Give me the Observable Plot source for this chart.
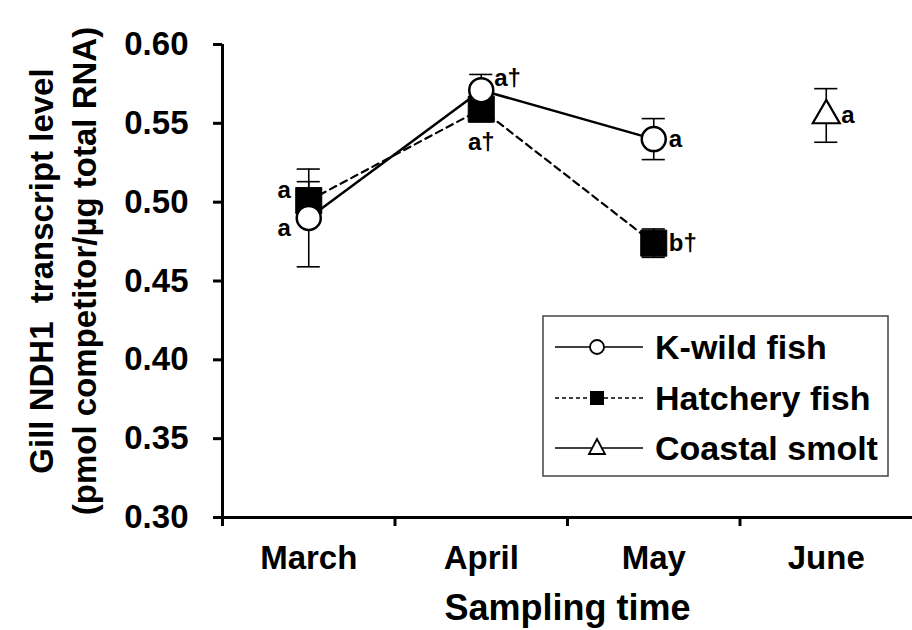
<!DOCTYPE html>
<html><head><meta charset="utf-8">
<script src="https://cdn.jsdelivr.net/npm/d3@7"></script>
<script src="https://cdn.jsdelivr.net/npm/@observablehq/plot@0.6"></script>
<style>
html,body{margin:0;padding:0;background:#fff;}
#chart{width:912px;height:630px;}
</style></head><body><div id="chart"></div>
<script>
// ---- data ----
const months = ["March", "April", "May", "June"];
const yTicks = [0.30, 0.35, 0.40, 0.45, 0.50, 0.55, 0.60];

const kwildMonths = ["March", "April", "May"];
const kwildMean = [0.490, 0.571, 0.540];
const kwildErr = [0.031, 0.010, 0.013];

const hatchMonths = ["March", "April", "May"];
const hatchMean = [0.501, 0.559, 0.474];
const hatchErr = [0.012, 0.008, 0.009];

const coastalMonths = ["June"];
const coastalMean = [0.555];
const coastalErr = [0.017];

const letterSeries = ["Hatchery", "K-wild", "K-wild", "Hatchery", "K-wild", "Hatchery", "Coastal"];
const letterMonths = ["March", "March", "April", "April", "May", "May", "June"];
const letterText = ["a", "a", "a\u2020", "a\u2020", "a", "b\u2020", "a"];
const letterSide = ["upperLeft", "lowerLeft", "upperRight", "below", "right", "right", "right"];

const legendNames = ["K-wild fish", "Hatchery fish", "Coastal smolt"];

const yTitle = "Gill NDH1  transcript level\n(pmol competitor/\u00b5g total RNA)";
const xTitle = "Sampling time";

// ---- build tables ----
const FONT = "'Liberation Sans', Arial, Helvetica, sans-serif";
const mk = (series, ms, mean, err) => ms.map((m, i) => ({
  series, month: m, x: months.indexOf(m) + 0.5, y: mean[i], lo: mean[i] - err[i], hi: mean[i] + err[i]
}));
const kwild = mk("K-wild", kwildMonths, kwildMean, kwildErr);
const hatch = mk("Hatchery", hatchMonths, hatchMean, hatchErr);
const coastal = mk("Coastal", coastalMonths, coastalMean, coastalErr);
const all = [...kwild, ...hatch, ...coastal];
const letters = letterText.map((t, i) => {
  const row = all.find(d => d.series === letterSeries[i] && d.month === letterMonths[i]);
  return {text: t, side: letterSide[i], x: row.x, y: row.y};
});
const capHalf = 0.067;

const sideOpts = {
  upperLeft: {textAnchor: "end", dx: -18, dy: -10},
  lowerLeft: {textAnchor: "end", dx: -18, dy: 10},
  upperRight: {textAnchor: "start", dx: 13, dy: -12},
  below: {textAnchor: "middle", dx: 0, dy: 33},
  right: {textAnchor: "start", dx: 15, dy: 0}
};
const letterMarks = Object.entries(sideOpts).map(([side, o]) =>
  Plot.text(letters.filter(d => d.side === side), {
    x: "x", y: "y", text: "text", fontSize: 24, fontWeight: "bold", ...o
  }));

// legend drawn as a custom render mark
function legendMark() {
  return (index, scales, values, dims) => {
    const g = d3.create("svg:g");
    const bx = 543, by = 316, bw = 345, bh = 160;
    g.append("rect").attr("x", bx).attr("y", by).attr("width", bw).attr("height", bh)
      .attr("fill", "white").attr("stroke", "#444").attr("stroke-width", 1.5);
    const rows = [347, 398, 448];
    const lx1 = 555, lx2 = 643, mx = 597, tx = 655;
    legendNames.forEach((name, i) => {
      const y = rows[i];
      const line = g.append("line").attr("x1", lx1).attr("x2", lx2).attr("y1", y).attr("y2", y)
        .attr("stroke", "black").attr("stroke-width", 1.5);
      if (i === 1) line.attr("stroke-dasharray", "4,3");
      if (i === 0) g.append("circle").attr("cx", mx).attr("cy", y).attr("r", 7)
        .attr("fill", "white").attr("stroke", "black").attr("stroke-width", 1.8);
      if (i === 1) g.append("rect").attr("x", mx - 7).attr("y", y - 7).attr("width", 14).attr("height", 14)
        .attr("fill", "black");
      if (i === 2) g.append("path").attr("d", `M${mx},${y - 9}L${mx + 8},${y + 6}L${mx - 8},${y + 6}Z`)
        .attr("fill", "white").attr("stroke", "black").attr("stroke-width", 1.8);
      g.append("text").attr("x", tx).attr("y", y).attr("dy", "0.36em")
        .attr("text-anchor", "start")
        .attr("font-size", 34).attr("font-weight", "bold").attr("font-family", FONT)
        .attr("fill", "black").text(name);
    });
    return g.node();
  };
}

const chart = Plot.plot({
  width: 912,
  height: 630,
  marginTop: 44,
  marginBottom: 113,
  marginLeft: 222,
  marginRight: 0,
  style: {fontFamily: FONT, fontSize: "32px", fontWeight: "bold", color: "black", background: "white", overflow: "visible"},
  x: {domain: [0, 4]},
  y: {domain: [0.30, 0.60]},
  marks: [
    // axes
    Plot.axisY({ticks: yTicks, tickSize: 9, tickPadding: 25, strokeWidth: 3, tickFormat: d => d.toFixed(2),
      fontSize: 33, fontWeight: "bold", label: null}),
    Plot.axisX({ticks: [0, 1, 2, 3], tickSize: 9, strokeWidth: 3, tickFormat: () => "", label: null}),
    Plot.axisX({ticks: months.map((m, i) => i + 0.5), tickSize: 0, tickPadding: 28,
      tickFormat: d => months[Math.floor(d)], fontSize: 33, fontWeight: "bold", label: null}),
    Plot.ruleX([0], {y1: 0.30, y2: 0.60, strokeWidth: 3}),
    Plot.ruleY([0.30], {strokeWidth: 3}),
    // titles
    Plot.text([yTitle], {frameAnchor: "left", textAnchor: "middle", lineAnchor: "middle", rotate: -90,
      dx: -162, dy: -10, fontSize: 33, fontWeight: "bold", lineHeight: 1.33}),
    Plot.text([xTitle], {frameAnchor: "bottom", textAnchor: "middle", lineAnchor: "middle",
      dx: 0, dy: 91, fontSize: 36, fontWeight: "bold"}),
    // error bars
    Plot.ruleX(all, {x: "x", y1: "lo", y2: "hi", strokeWidth: 1.6}),
    Plot.ruleY(all, {y: "lo", x1: d => d.x - capHalf, x2: d => d.x + capHalf, strokeWidth: 1.6}),
    Plot.ruleY(all, {y: "hi", x1: d => d.x - capHalf, x2: d => d.x + capHalf, strokeWidth: 1.6}),
    // lines
    Plot.line(hatch, {x: "x", y: "y", strokeWidth: 2.2, strokeDasharray: "7,5"}),
    Plot.line(kwild, {x: "x", y: "y", strokeWidth: 2.5}),
    // markers
    Plot.dot(hatch, {x: "x", y: "y", symbol: d3.symbolSquare, r: 14.7, fill: "black", stroke: "black", strokeWidth: 1}),
    Plot.dot(kwild, {x: "x", y: "y", r: 12, fill: "white", stroke: "black", strokeWidth: 2.5}),
    Plot.dot(coastal, {x: "x", y: "y", symbol: d3.symbolTriangle, r: 10, fill: "white", stroke: "black", strokeWidth: 2.2}),
    ...letterMarks,
    legendMark()
  ]
});
document.getElementById("chart").append(chart);
</script>
</body></html>
